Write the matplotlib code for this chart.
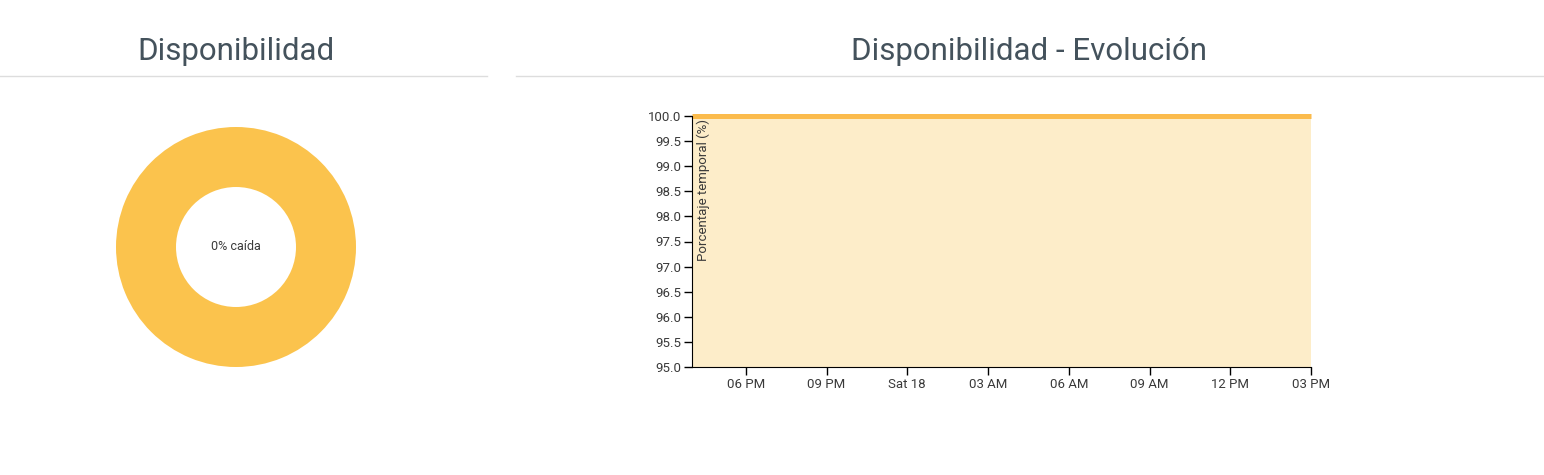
import datetime as dt

import matplotlib
import matplotlib.dates as mdates
import matplotlib.pyplot as plt
from matplotlib.ticker import FuncFormatter, MultipleLocator

matplotlib.use("Agg")

plt.rcParams["font.family"] = ["Roboto", "DejaVu Sans"]

YELLOW = "#fbc34d"
LINE = "#fbbb4c"
FILL = "#fdedc9"
TITLE = "#44525c"
TEXT = "#3a3a3a"

# donut: downtime vs uptime
donut_labels = ["caída", "disponible"]
donut_values = [0, 100]

# hourly availability, Fri 17 16:00 -> Sat 18 15:00
start = dt.datetime(2019, 5, 17, 16)
hours = list(range(24))
availability = [
    100.0, 100.0, 100.0, 100.0, 100.0, 100.0, 100.0, 100.0,
    100.0, 100.0, 100.0, 100.0, 100.0, 100.0, 100.0, 100.0,
    100.0, 100.0, 100.0, 100.0, 100.0, 100.0, 100.0, 100.0,
]
times = [start + dt.timedelta(hours=h) for h in hours]

W, H = 1544, 475
fig = plt.figure(figsize=(W / 100, H / 100), dpi=100)


def px(x0, y0, x1, y1):
    return [x0 / W, 1 - y1 / H, (x1 - x0) / W, (y1 - y0) / H]


# titles and rules
fig.text(236 / W, 1 - 51 / H, "Disponibilidad", ha="center", va="center",
         fontsize=22.5, color=TITLE)
fig.text(1029 / W, 1 - 51 / H, "Disponibilidad - Evolución", ha="center", va="center",
         fontsize=22.5, color=TITLE)
fig.add_artist(plt.Line2D([0, 487 / W], [1 - 76 / H] * 2, color="#dddddd", lw=1))
fig.add_artist(plt.Line2D([516 / W, 1], [1 - 76 / H] * 2, color="#dddddd", lw=1))

# donut
ax_d = fig.add_axes(px(116, 127, 356, 367))
ax_d.pie(donut_values[::-1], colors=[YELLOW, "#e0e0e0"], startangle=90,
         counterclock=False, radius=1.0, wedgeprops=dict(width=0.5, linewidth=0))
ax_d.text(0, 0, f"{donut_values[0]}% {donut_labels[0]}", ha="center", va="center",
          fontsize=9, color=TEXT)
ax_d.set_xlim(-1, 1)
ax_d.set_ylim(-1, 1)
ax_d.set_aspect("equal")
ax_d.axis("off")

# evolution chart
ax = fig.add_axes(px(692, 116, 1311, 367))
ax.fill_between(times, 95, availability, color=FILL, linewidth=0)
ax.plot(times, availability, color=LINE, lw=3.6, solid_capstyle="butt", clip_on=False)
ax.set_xlim(times[0], times[-1])
ax.set_ylim(95, 100)
ax.yaxis.set_major_locator(MultipleLocator(0.5))
ax.yaxis.set_major_formatter(FuncFormatter(lambda v, _: f"{v:.1f}"))
ax.xaxis.set_major_locator(mdates.HourLocator(byhour=range(0, 24, 3)))


def fmt_time(v, _):
    t = mdates.num2date(v)
    return t.strftime("%a %d") if t.hour == 0 else t.strftime("%I %p")


ax.xaxis.set_major_formatter(FuncFormatter(fmt_time))
for position in ("right", "top"):
    ax.spines[position].set_visible(False)
ax.tick_params(length=6, width=1, labelsize=9.5, colors="#000000", labelcolor=TEXT, pad=2)
ax.text(0.018, 0.99, "Porcentaje temporal (%)", transform=ax.transAxes, rotation=90,
        ha="center", va="top", fontsize=9.5, color=TEXT)

fig.savefig("out.png", dpi=100)
plt.close(fig)
